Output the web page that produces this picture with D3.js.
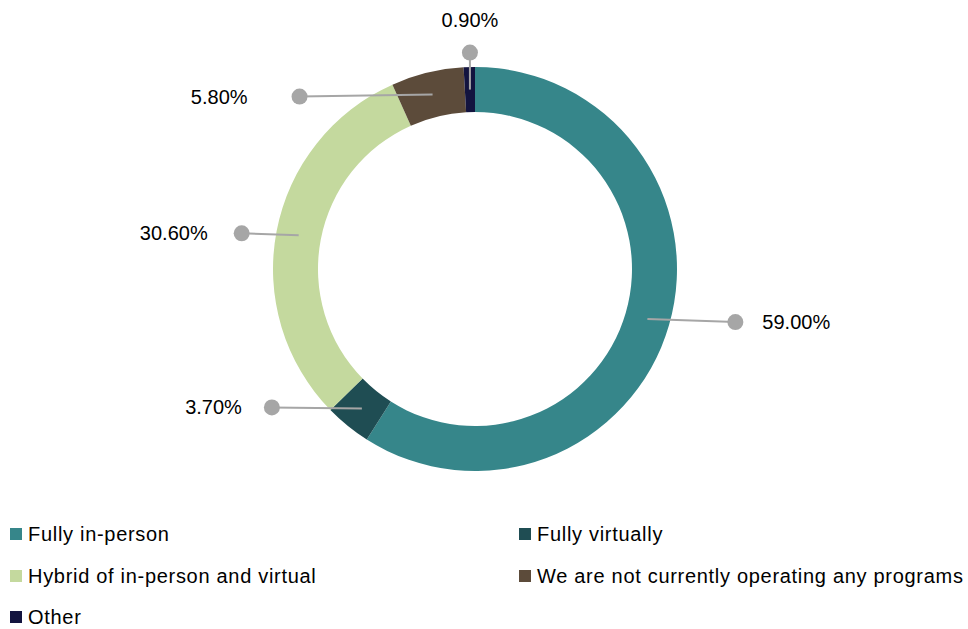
<!DOCTYPE html>
<html>
<head>
<meta charset="utf-8">
<script src="https://cdn.jsdelivr.net/npm/d3@7"></script>
<style>
  html, body { margin: 0; padding: 0; background: #ffffff; }
  svg { display: block; }
  text { font-family: "Liberation Sans", Arial, sans-serif; fill: #000; }
</style>
</head>
<body>
<svg id="chart" width="968" height="629"></svg>
<script>
// ---- data ----
const categories = [
  "Fully in-person",
  "Fully virtually",
  "Hybrid of in-person and virtual",
  "We are not currently operating any programs",
  "Other"
];
const values = [59.0, 3.7, 30.6, 5.8, 0.9];
const valueLabels = ["59.00%", "3.70%", "30.60%", "5.80%", "0.90%"];
const colors = ["#36868A", "#1F4D53", "#C4D99E", "#5C4B3A", "#13143F"];

// ---- layout (label leader end offsets, px, relative to band midpoint) ----
const leaderOffsets = [[88, 3], [-90, -1], [-57, -2], [-133, 2], [0, -37]];
const labelAnchor = ["start", "end", "end", "end", "middle"];
const labelGap = [27, 30, 34, 52, 33];

const svg = d3.select("#chart");
const cx = 475, cy = 269, rOuter = 202, rInner = 157;
const g = svg.append("g").attr("transform", `translate(${cx},${cy})`);

const pie = d3.pie().sort(null).value(d => d);
const arcs = pie(values);
const arc = d3.arc().innerRadius(rInner).outerRadius(rOuter);
const midArc = d3.arc().innerRadius((rInner + rOuter) / 2).outerRadius((rInner + rOuter) / 2);

g.selectAll("path.slice")
  .data(arcs)
  .join("path")
  .attr("class", "slice")
  .attr("d", arc)
  .attr("fill", (d, i) => colors[i]);

// leader lines + dots + labels
arcs.forEach((d, i) => {
  const [x0, y0] = midArc.centroid(d);
  const x1 = x0 + leaderOffsets[i][0], y1 = y0 + leaderOffsets[i][1];
  g.append("line")
    .attr("x1", x0).attr("y1", y0).attr("x2", x1).attr("y2", y1)
    .attr("stroke", "#A6A6A6").attr("stroke-width", 2);
  g.append("circle")
    .attr("cx", x1).attr("cy", y1).attr("r", 8)
    .attr("fill", "#A6A6A6");
  let tx = x1, ty = y1;
  if (labelAnchor[i] === "start") tx = x1 + labelGap[i];
  else if (labelAnchor[i] === "end") tx = x1 - labelGap[i];
  else ty = y1 - labelGap[i];
  g.append("text")
    .attr("x", tx).attr("y", ty)
    .attr("dy", "0.35em")
    .attr("text-anchor", labelAnchor[i])
    .style("font-size", "20px")
    .text(valueLabels[i]);
});

// legend
const legendCols = [10, 519];
const legendRows = [534, 576, 617];
const legend = svg.append("g");
categories.forEach((c, i) => {
  const x = legendCols[i % 2], y = legendRows[Math.floor(i / 2)];
  legend.append("rect")
    .attr("x", x).attr("y", y - 6).attr("width", 12).attr("height", 12)
    .attr("fill", colors[i]);
  legend.append("text")
    .attr("x", x + 18).attr("y", y)
    .attr("dy", "0.35em")
    .style("font-size", "20px")
    .style("letter-spacing", "0.7px")
    .text(c);
});
</script>
</body>
</html>
